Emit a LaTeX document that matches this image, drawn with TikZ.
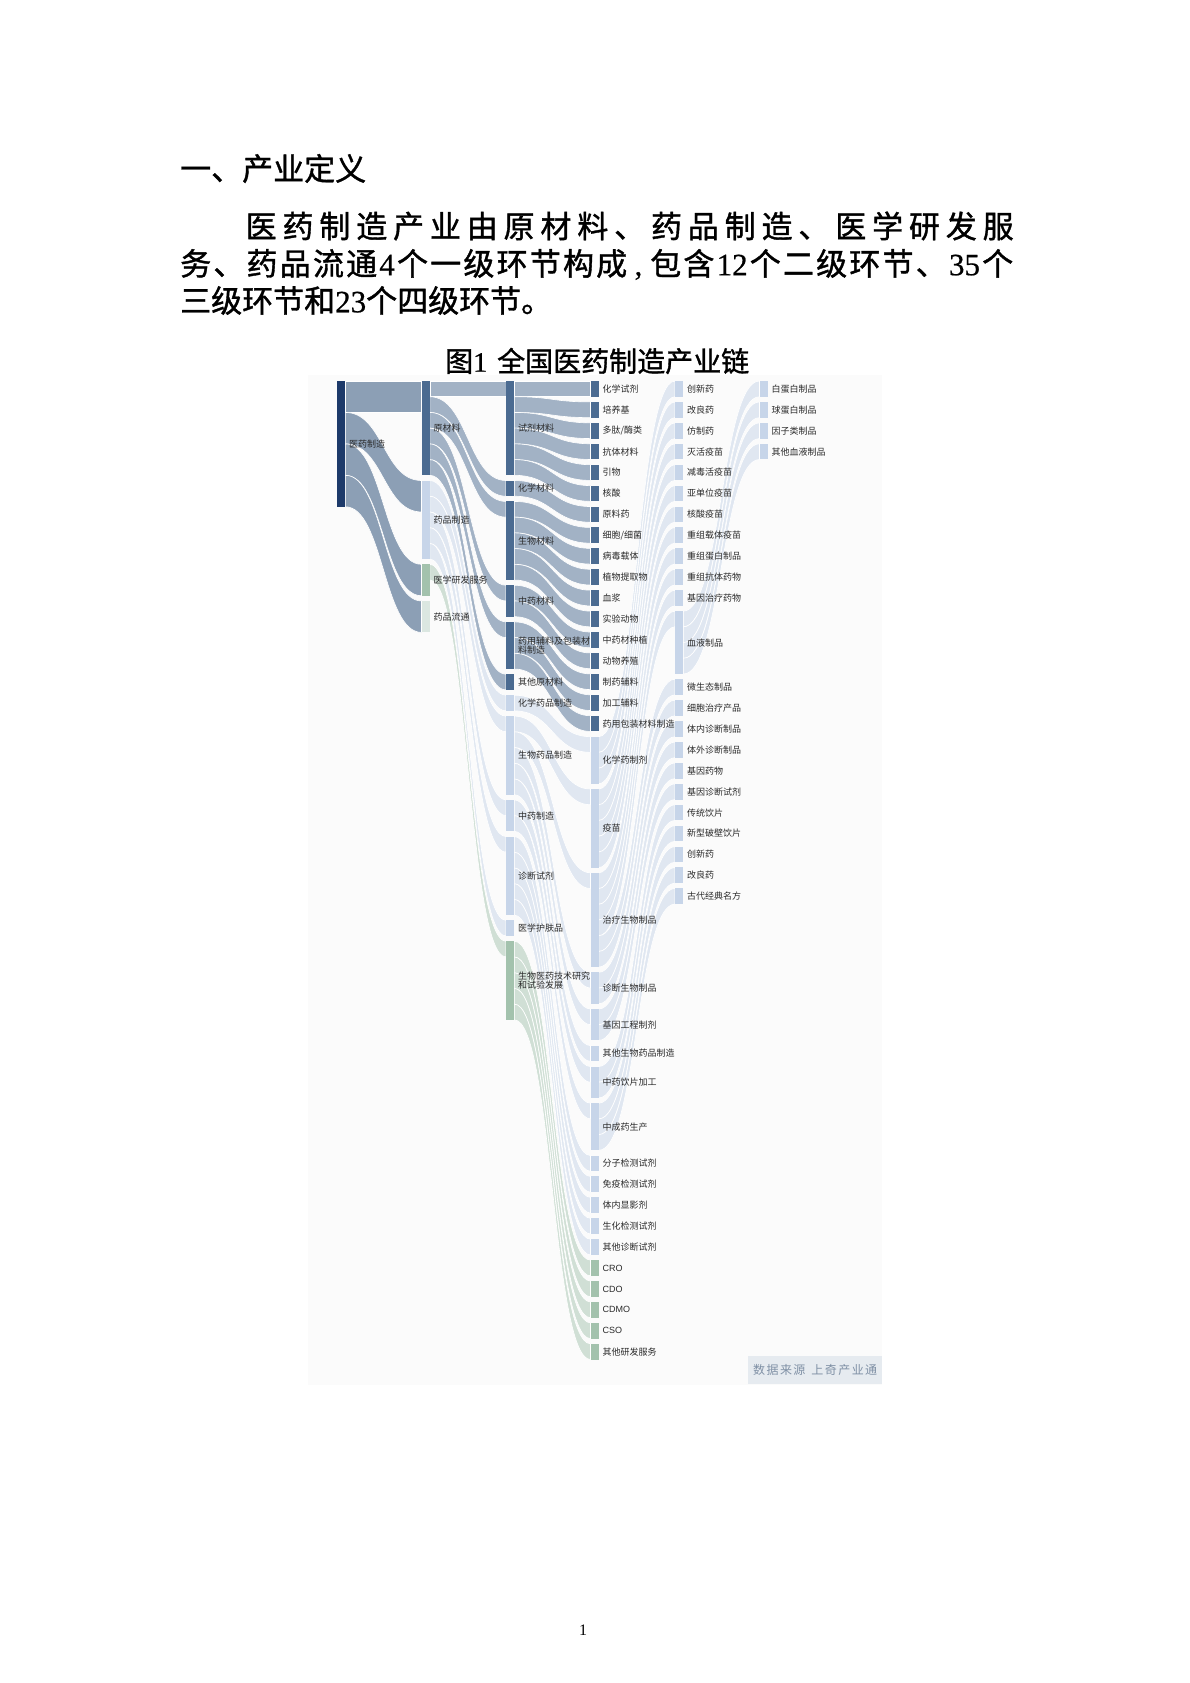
\documentclass[tikz,border=0pt]{standalone}
\usepackage{fontspec}
\setmainfont{Noto Sans CJK SC}
\newfontfamily\tnr{Liberation Serif}
\newfontfamily\arialf{Liberation Sans}
\newfontfamily\heavy[FakeBold=1.2]{Noto Sans CJK SC}
\newfontfamily\heavytnr[FakeBold=0.6]{Liberation Serif}
\definecolor{rootc}{HTML}{1D3A6A}
\definecolor{rootL}{HTML}{1F4571}
\definecolor{rawc}{HTML}{4B6B91}
\definecolor{mfgc}{HTML}{C7D5E9}
\definecolor{rdc}{HTML}{A3C2AD}
\definecolor{rdL}{HTML}{A7C5B1}
\definecolor{distc}{HTML}{DBE7E1}
\definecolor{labc}{HTML}{2A2A2A}
\definecolor{srcbox}{HTML}{E6EBF0}
\definecolor{srctext}{HTML}{7F90A5}
\definecolor{panel}{HTML}{FBFBFB}
\makeatletter
\def\hu{15.72}\def\gp{5.2}\def\bw{8.3}
\expandafter\def\csname coly1\endcsname{381}
\expandafter\def\csname coly2\endcsname{381}
\expandafter\def\csname coly3\endcsname{381}
\expandafter\def\csname coly4\endcsname{381}
\expandafter\def\csname coly5\endcsname{381}
\expandafter\def\csname coly6\endcsname{381}
% define a sankey node: name, column, units
\newcommand\defnode[3]{%
  \edef\sk@y{\csname coly#2\endcsname}%
  \pgfmathsetmacro\sk@x{337+84.5*(#2-1)}%
  \pgfmathsetmacro\sk@h{#3*\hu}%
  \pgfmathsetmacro\sk@n{\sk@y+\sk@h+\gp}%
  \expandafter\xdef\csname nx@#1\endcsname{\sk@x}%
  \expandafter\xdef\csname ny@#1\endcsname{\sk@y}%
  \expandafter\xdef\csname nh@#1\endcsname{\sk@h}%
  \expandafter\xdef\csname out@#1\endcsname{\sk@y}%
  \expandafter\xdef\csname in@#1\endcsname{\sk@y}%
  \expandafter\xdef\csname coly#2\endcsname{\sk@n}%
}
% draw a sankey band: source, target, units, colour
\newcommand\slink[4]{%
  \edef\sk@xa{\csname nx@#1\endcsname}%
  \edef\sk@xb{\csname nx@#2\endcsname}%
  \edef\sk@ya{\csname out@#1\endcsname}%
  \edef\sk@yb{\csname in@#2\endcsname}%
  \pgfmathsetmacro\sk@xa{\sk@xa+\bw}%
  \pgfmathsetmacro\sk@xm{(\sk@xa+\sk@xb)/2}%
  \pgfmathsetmacro\sk@w{#3*\hu}%
  \pgfmathsetmacro\sk@yc{\sk@ya+\sk@w}%
  \pgfmathsetmacro\sk@yd{\sk@yb+\sk@w}%
  \expandafter\xdef\csname out@#1\endcsname{\sk@yc}%
  \expandafter\xdef\csname in@#2\endcsname{\sk@yd}%
  \path[band, fill=#4] (\sk@xa,\sk@ya) .. controls (\sk@xm,\sk@ya) and (\sk@xm,\sk@yb) .. (\sk@xb,\sk@yb)
     -- (\sk@xb,\sk@yd) .. controls (\sk@xm,\sk@yd) and (\sk@xm,\sk@yc) .. (\sk@xa,\sk@yc) -- cycle;
}
% draw the bar and its label: name, colour, label
\newcommand\drawnode[3]{%
  \edef\sk@x{\csname nx@#1\endcsname}%
  \edef\sk@y{\csname ny@#1\endcsname}%
  \edef\sk@h{\csname nh@#1\endcsname}%
  \node[bar, fill=#2, minimum height=\sk@h pt] (#1) at (\sk@x,\sk@y) {};
  \node[lab] (#1-t) at (#1.east) {#3};
}
\makeatother
\newcommand\bodyfont{\fontsize{31}{31}\selectfont\heavy}
\newcommand\dg[1]{{\heavytnr #1}}
\begin{document}
\begin{tikzpicture}[x=1pt,y=-1pt,
  bar/.style={anchor=north west, minimum width=8.3pt, inner sep=0pt, outer sep=0pt, draw=none},
  lab/.style={anchor=west, xshift=3.5pt, font=\fontsize{9}{9.5}\selectfont, text=labc, inner sep=0pt, align=left},
  band/.style={fill opacity=0.5, draw=white, line width=0.6pt},
  txt/.style={anchor=west, inner sep=0pt, font=\bodyfont}]
\useasboundingbox (0,0) rectangle (1190,1683);
\fill[white] (0,0) rectangle (1190,1683);

% ---------- text above ----------
\node[txt] (h1) at (180,168.5) {一、产业定义};
\node[txt] (p1) at (245.5,226) {\makebox[768pt][s]{\spaceskip=0pt plus 1fil\xspaceskip=0pt plus 1fil 医 药 制 造 产 业 由 原 材 料 、 药 品 制 造 、 医 学 研 发 服}};
\node[txt] (p2) at (180,264.5) {\makebox[833pt][s]{\spaceskip=0pt plus 1fil\xspaceskip=0pt plus 1fil 务 、 药 品 流 通 \dg{4} 个 一 级 环 节 构 成 \dg{\,,\,} 包 含 \dg{12} 个 二 级 环 节 、 \dg{35} 个}};
\node[txt] (p3) at (180,300.5) {三级环节和\dg{23}个四级环节。};
\node[anchor=west, inner sep=0pt, font=\fontsize{28}{28}\selectfont\heavy] (title) at (445,361) {图\dg{1}\hspace{10pt}全国医药制造产业链};

% ---------- panel ----------
\fill[panel] (308,375) rectangle (882,1385);

% ---------- nodes (layout) ----------
\defnode{root}{1}{8}
\defnode{raw}{2}{6}\defnode{mfg}{2}{5}\defnode{rd}{2}{2}\defnode{dist}{2}{2}
\defnode{c3a}{3}{6}\defnode{c3b}{3}{1}\defnode{c3c}{3}{5}\defnode{c3d}{3}{2}
\defnode{c3e}{3}{3}\defnode{c3f}{3}{1}\defnode{c3g}{3}{1}\defnode{c3h}{3}{5}
\defnode{c3i}{3}{2}\defnode{c3j}{3}{5}\defnode{c3k}{3}{1}\defnode{c3l}{3}{5}
\defnode{d01}{4}{1}\defnode{d02}{4}{1}\defnode{d03}{4}{1}\defnode{d04}{4}{1}
\defnode{d05}{4}{1}\defnode{d06}{4}{1}\defnode{d07}{4}{1}\defnode{d08}{4}{1}
\defnode{d09}{4}{1}\defnode{d10}{4}{1}\defnode{d11}{4}{1}\defnode{d12}{4}{1}
\defnode{d13}{4}{1}\defnode{d14}{4}{1}\defnode{d15}{4}{1}\defnode{d16}{4}{1}
\defnode{d17}{4}{1}\defnode{d18}{4}{3}\defnode{d19}{4}{5}\defnode{d20}{4}{6}
\defnode{d21}{4}{2}\defnode{d22}{4}{2}\defnode{d23}{4}{1}\defnode{d24}{4}{2}
\defnode{d25}{4}{3}\defnode{d26}{4}{1}\defnode{d27}{4}{1}\defnode{d28}{4}{1}
\defnode{d29}{4}{1}\defnode{d30}{4}{1}\defnode{d31}{4}{1}\defnode{d32}{4}{1}
\defnode{d33}{4}{1}\defnode{d34}{4}{1}\defnode{d35}{4}{1}
\defnode{e01}{5}{1}\defnode{e02}{5}{1}\defnode{e03}{5}{1}\defnode{e04}{5}{1}
\defnode{e05}{5}{1}\defnode{e06}{5}{1}\defnode{e07}{5}{1}\defnode{e08}{5}{1}
\defnode{e09}{5}{1}\defnode{e10}{5}{1}\defnode{e11}{5}{1}\defnode{e12}{5}{4}
\defnode{e13}{5}{1}\defnode{e14}{5}{1}\defnode{e15}{5}{1}\defnode{e16}{5}{1}
\defnode{e17}{5}{1}\defnode{e18}{5}{1}\defnode{e19}{5}{1}\defnode{e20}{5}{1}
\defnode{e21}{5}{1}\defnode{e22}{5}{1}\defnode{e23}{5}{1}
\defnode{f1}{6}{1}\defnode{f2}{6}{1}\defnode{f3}{6}{1}\defnode{f4}{6}{1}

% ---------- bands ----------
\slink{root}{raw}{2}{rootL}\slink{root}{mfg}{2}{rootL}\slink{root}{rd}{2}{rootL}\slink{root}{dist}{2}{rootL}
\slink{raw}{c3a}{1}{rawc}\slink{raw}{c3b}{1}{rawc}\slink{raw}{c3c}{1}{rawc}
\slink{raw}{c3d}{1}{rawc}\slink{raw}{c3e}{1}{rawc}\slink{raw}{c3f}{1}{rawc}
\slink{mfg}{c3g}{1}{mfgc}\slink{mfg}{c3h}{1}{mfgc}\slink{mfg}{c3i}{1}{mfgc}
\slink{mfg}{c3j}{1}{mfgc}\slink{mfg}{c3k}{1}{mfgc}
\slink{rd}{c3l}{1}{rdL}
\slink{c3a}{d01}{1}{rawc}\slink{c3a}{d02}{1}{rawc}\slink{c3a}{d03}{1}{rawc}
\slink{c3a}{d04}{1}{rawc}\slink{c3a}{d05}{1}{rawc}\slink{c3a}{d06}{1}{rawc}
\slink{c3b}{d07}{1}{rawc}
\slink{c3c}{d08}{1}{rawc}\slink{c3c}{d09}{1}{rawc}\slink{c3c}{d10}{1}{rawc}
\slink{c3c}{d11}{1}{rawc}\slink{c3c}{d12}{1}{rawc}
\slink{c3d}{d13}{1}{rawc}\slink{c3d}{d14}{1}{rawc}
\slink{c3e}{d15}{1}{rawc}\slink{c3e}{d16}{1}{rawc}\slink{c3e}{d17}{1}{rawc}
\slink{c3g}{d18}{1}{mfgc}
\slink{c3h}{d19}{1}{mfgc}\slink{c3h}{d20}{1}{mfgc}\slink{c3h}{d21}{1}{mfgc}
\slink{c3h}{d22}{1}{mfgc}\slink{c3h}{d23}{1}{mfgc}
\slink{c3i}{d24}{1}{mfgc}\slink{c3i}{d25}{1}{mfgc}
\slink{c3j}{d26}{1}{mfgc}\slink{c3j}{d27}{1}{mfgc}\slink{c3j}{d28}{1}{mfgc}
\slink{c3j}{d29}{1}{mfgc}\slink{c3j}{d30}{1}{mfgc}
\slink{c3l}{d31}{1}{rdL}\slink{c3l}{d32}{1}{rdL}\slink{c3l}{d33}{1}{rdL}
\slink{c3l}{d34}{1}{rdL}\slink{c3l}{d35}{1}{rdL}
\slink{d18}{e01}{1}{mfgc}\slink{d18}{e02}{1}{mfgc}\slink{d18}{e03}{1}{mfgc}
\slink{d19}{e04}{1}{mfgc}\slink{d19}{e05}{1}{mfgc}\slink{d19}{e06}{1}{mfgc}
\slink{d19}{e07}{1}{mfgc}\slink{d19}{e08}{1}{mfgc}
\slink{d20}{e09}{1}{mfgc}\slink{d20}{e10}{1}{mfgc}\slink{d20}{e11}{1}{mfgc}
\slink{d20}{e12}{1}{mfgc}\slink{d20}{e13}{1}{mfgc}\slink{d20}{e14}{1}{mfgc}
\slink{d21}{e15}{1}{mfgc}\slink{d21}{e16}{1}{mfgc}
\slink{d22}{e17}{1}{mfgc}\slink{d22}{e18}{1}{mfgc}
\slink{d24}{e19}{1}{mfgc}\slink{d24}{e20}{1}{mfgc}
\slink{d25}{e21}{1}{mfgc}\slink{d25}{e22}{1}{mfgc}\slink{d25}{e23}{1}{mfgc}
\slink{e12}{f1}{1}{mfgc}\slink{e12}{f2}{1}{mfgc}\slink{e12}{f3}{1}{mfgc}\slink{e12}{f4}{1}{mfgc}

% ---------- bars and labels ----------
\drawnode{root}{rootc}{医药制造}
\drawnode{raw}{rawc}{原材料}
\drawnode{mfg}{mfgc}{药品制造}
\drawnode{rd}{rdc}{医学研发服务}
\drawnode{dist}{distc}{药品流通}
\drawnode{c3a}{rawc}{试剂材料}
\drawnode{c3b}{rawc}{化学材料}
\drawnode{c3c}{rawc}{生物材料}
\drawnode{c3d}{rawc}{中药材料}
\drawnode{c3e}{rawc}{药用辅料及包装材\\料制造}
\drawnode{c3f}{rawc}{其他原材料}
\drawnode{c3g}{mfgc}{化学药品制造}
\drawnode{c3h}{mfgc}{生物药品制造}
\drawnode{c3i}{mfgc}{中药制造}
\drawnode{c3j}{mfgc}{诊断试剂}
\drawnode{c3k}{mfgc}{医学护肤品}
\drawnode{c3l}{rdc}{生物医药技术研究\\和试验发展}
\drawnode{d01}{rawc}{化学试剂}
\drawnode{d02}{rawc}{培养基}
\drawnode{d03}{rawc}{多肽/酶类}
\drawnode{d04}{rawc}{抗体材料}
\drawnode{d05}{rawc}{引物}
\drawnode{d06}{rawc}{核酸}
\drawnode{d07}{rawc}{原料药}
\drawnode{d08}{rawc}{细胞/细菌}
\drawnode{d09}{rawc}{病毒载体}
\drawnode{d10}{rawc}{植物提取物}
\drawnode{d11}{rawc}{血浆}
\drawnode{d12}{rawc}{实验动物}
\drawnode{d13}{rawc}{中药材种植}
\drawnode{d14}{rawc}{动物养殖}
\drawnode{d15}{rawc}{制药辅料}
\drawnode{d16}{rawc}{加工辅料}
\drawnode{d17}{rawc}{药用包装材料制造}
\drawnode{d18}{mfgc}{化学药制剂}
\drawnode{d19}{mfgc}{疫苗}
\drawnode{d20}{mfgc}{治疗生物制品}
\drawnode{d21}{mfgc}{诊断生物制品}
\drawnode{d22}{mfgc}{基因工程制剂}
\drawnode{d23}{mfgc}{其他生物药品制造}
\drawnode{d24}{mfgc}{中药饮片加工}
\drawnode{d25}{mfgc}{中成药生产}
\drawnode{d26}{mfgc}{分子检测试剂}
\drawnode{d27}{mfgc}{免疫检测试剂}
\drawnode{d28}{mfgc}{体内显影剂}
\drawnode{d29}{mfgc}{生化检测试剂}
\drawnode{d30}{mfgc}{其他诊断试剂}
\drawnode{d31}{rdc}{\arialf CRO}
\drawnode{d32}{rdc}{\arialf CDO}
\drawnode{d33}{rdc}{\arialf CDMO}
\drawnode{d34}{rdc}{\arialf CSO}
\drawnode{d35}{rdc}{其他研发服务}
\drawnode{e01}{mfgc}{创新药}
\drawnode{e02}{mfgc}{改良药}
\drawnode{e03}{mfgc}{仿制药}
\drawnode{e04}{mfgc}{灭活疫苗}
\drawnode{e05}{mfgc}{减毒活疫苗}
\drawnode{e06}{mfgc}{亚单位疫苗}
\drawnode{e07}{mfgc}{核酸疫苗}
\drawnode{e08}{mfgc}{重组载体疫苗}
\drawnode{e09}{mfgc}{重组蛋白制品}
\drawnode{e10}{mfgc}{重组抗体药物}
\drawnode{e11}{mfgc}{基因治疗药物}
\drawnode{e12}{mfgc}{血液制品}
\drawnode{e13}{mfgc}{微生态制品}
\drawnode{e14}{mfgc}{细胞治疗产品}
\drawnode{e15}{mfgc}{体内诊断制品}
\drawnode{e16}{mfgc}{体外诊断制品}
\drawnode{e17}{mfgc}{基因药物}
\drawnode{e18}{mfgc}{基因诊断试剂}
\drawnode{e19}{mfgc}{传统饮片}
\drawnode{e20}{mfgc}{新型破壁饮片}
\drawnode{e21}{mfgc}{创新药}
\drawnode{e22}{mfgc}{改良药}
\drawnode{e23}{mfgc}{古代经典名方}
\drawnode{f1}{mfgc}{白蛋白制品}
\drawnode{f2}{mfgc}{球蛋白制品}
\drawnode{f3}{mfgc}{因子类制品}
\drawnode{f4}{mfgc}{其他血液制品}

% ---------- source box and page number ----------
\node[fill=srcbox, anchor=north west, minimum width=134pt, minimum height=28pt, inner sep=0pt,
      font=\fontsize{12}{12}\selectfont\addfontfeature{LetterSpace=12}, text=srctext] (src) at (748,1356) {数据来源\hspace{6pt}上奇产业通};
\node[inner sep=0pt, font=\fontsize{16}{16}\selectfont\tnr] (pg) at (583,1630) {1};
\end{tikzpicture}
\end{document}
